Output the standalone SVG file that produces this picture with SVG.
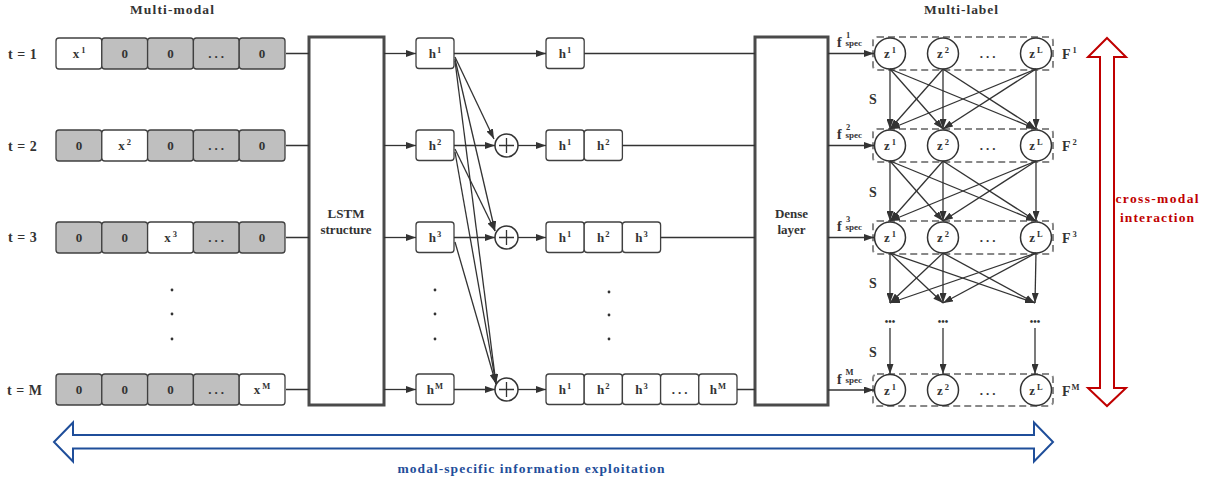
<svg xmlns="http://www.w3.org/2000/svg" width="1208" height="483" viewBox="0 0 1208 483">
<defs>
<marker id="ah" viewBox="0 0 10 7" refX="10" refY="3.5" markerWidth="10" markerHeight="7" markerUnits="userSpaceOnUse" orient="auto"><path d="M0,0 L10,3.5 L0,7 z" fill="#333"/></marker>
</defs>
<style>
text{font-family:"Liberation Serif","Times New Roman",serif;font-weight:bold;fill:#333}
.t{font-size:14px}
.c{font-size:13px;text-anchor:middle}
.sup{font-size:8.5px}
.el{letter-spacing:3px}
.cell{stroke:#404040;stroke-width:1.3;fill:#fff}
.g{fill:#bfbfbf}
.big{fill:#fff;stroke:#4a4a4a;stroke-width:3}
.ln{stroke:#333;stroke-width:1.3;fill:none}
.ar{stroke:#333;stroke-width:1.3;fill:none;marker-end:url(#ah)}
.zc{fill:#fff;stroke:#333;stroke-width:1.5}
.dash{fill:none;stroke:#888;stroke-width:2;stroke-dasharray:7 4}
.dot{fill:#333}
.sub{font-size:9px}
.fs{font-size:14px}
</style>
<rect width="1208" height="483" fill="#fff"/>
<text x="172" y="13.5" class="c" style="font-size:13.5px" textLength="84" lengthAdjust="spacing">Multi-modal</text>
<text x="961" y="13.5" class="c" style="font-size:13.5px" textLength="74" lengthAdjust="spacing">Multi-label</text>

<g id="labels-t">
<text x="8" y="58.5" class="t" word-spacing="1">t = 1</text>
<text x="8" y="150.5" class="t" word-spacing="1">t = 2</text>
<text x="8" y="242" class="t" word-spacing="1">t = 3</text>
<text x="7" y="394.5" class="t" word-spacing="1">t = M</text>
</g>

<g id="input-1">
<rect x="56" y="38" width="45.8" height="31" rx="3" class="cell"/>
<rect x="101.8" y="38" width="45.8" height="31" rx="3" class="cell g"/>
<rect x="147.6" y="38" width="45.8" height="31" rx="3" class="cell g"/>
<rect x="193.4" y="38" width="45.8" height="31" rx="3" class="cell g"/>
<rect x="239.2" y="38" width="45.8" height="31" rx="3" class="cell g"/>
<text x="79" y="58" class="c">x<tspan class="sup" dx="2" dy="-5">1</tspan></text>
<text x="124.7" y="58" class="c">0</text>
<text x="170.5" y="58" class="c">0</text>
<text x="217.5" y="58" class="c el">...</text>
<text x="262.1" y="58" class="c">0</text>
</g>
<g id="input-2">
<rect x="56" y="130" width="45.8" height="31" rx="3" class="cell g"/>
<rect x="101.8" y="130" width="45.8" height="31" rx="3" class="cell"/>
<rect x="147.6" y="130" width="45.8" height="31" rx="3" class="cell g"/>
<rect x="193.4" y="130" width="45.8" height="31" rx="3" class="cell g"/>
<rect x="239.2" y="130" width="45.8" height="31" rx="3" class="cell g"/>
<text x="78.9" y="150" class="c">0</text>
<text x="124.7" y="150" class="c">x<tspan class="sup" dx="2" dy="-5">2</tspan></text>
<text x="170.5" y="150" class="c">0</text>
<text x="217.5" y="150" class="c el">...</text>
<text x="262.1" y="150" class="c">0</text>
</g>
<g id="input-3">
<rect x="56" y="222" width="45.8" height="31" rx="3" class="cell g"/>
<rect x="101.8" y="222" width="45.8" height="31" rx="3" class="cell g"/>
<rect x="147.6" y="222" width="45.8" height="31" rx="3" class="cell"/>
<rect x="193.4" y="222" width="45.8" height="31" rx="3" class="cell g"/>
<rect x="239.2" y="222" width="45.8" height="31" rx="3" class="cell g"/>
<text x="78.9" y="242" class="c">0</text>
<text x="124.7" y="242" class="c">0</text>
<text x="170.5" y="242" class="c">x<tspan class="sup" dx="2" dy="-5">3</tspan></text>
<text x="217.5" y="242" class="c el">...</text>
<text x="262.1" y="242" class="c">0</text>
</g>
<g id="input-dots">
<circle cx="172" cy="290" r="1.4" class="dot"/><circle cx="172" cy="314" r="1.4" class="dot"/><circle cx="172" cy="339" r="1.4" class="dot"/>
</g>
<g id="input-M">
<rect x="56" y="374" width="45.8" height="31" rx="3" class="cell g"/>
<rect x="101.8" y="374" width="45.8" height="31" rx="3" class="cell g"/>
<rect x="147.6" y="374" width="45.8" height="31" rx="3" class="cell g"/>
<rect x="193.4" y="374" width="45.8" height="31" rx="3" class="cell g"/>
<rect x="239.2" y="374" width="45.8" height="31" rx="3" class="cell"/>
<text x="78.9" y="394" class="c">0</text>
<text x="124.7" y="394" class="c">0</text>
<text x="170.5" y="394" class="c">0</text>
<text x="217.5" y="394" class="c el">...</text>
<text x="262.1" y="394" class="c">x<tspan class="sup" dx="2" dy="-5">M</tspan></text>
</g>

<g id="lstm">
<rect x="309" y="37" width="75" height="368" class="big"/>
<text x="346" y="218" class="c">LSTM</text>
<text x="346" y="234" class="c">structure</text>
</g>

<g id="h-col">
<rect x="416" y="38" width="38" height="30.5" rx="3" class="cell"/>
<rect x="416" y="130" width="38" height="30.5" rx="3" class="cell"/>
<rect x="416" y="222" width="38" height="30.5" rx="3" class="cell"/>
<rect x="416" y="374" width="38" height="30.5" rx="3" class="cell"/>
<text x="435" y="58" class="c">h<tspan class="sup" dx="1" dy="-5">1</tspan></text>
<text x="435" y="150" class="c">h<tspan class="sup" dx="1" dy="-5">2</tspan></text>
<text x="435" y="242" class="c">h<tspan class="sup" dx="1" dy="-5">3</tspan></text>
<text x="435" y="394" class="c">h<tspan class="sup" dx="1" dy="-5">M</tspan></text>
<circle cx="435" cy="290" r="1.4" class="dot"/><circle cx="435" cy="314" r="1.4" class="dot"/><circle cx="435" cy="339" r="1.4" class="dot"/>
</g>

<g id="plus-nodes">
<circle cx="506.5" cy="145.5" r="11.5" class="zc" stroke-width="1.3"/>
<path d="M499,145.5 H514 M506.5,138 V153" class="ln"/>
<circle cx="506.5" cy="237.5" r="11.5" class="zc" stroke-width="1.3"/>
<path d="M499,237.5 H514 M506.5,230 V245" class="ln"/>
<circle cx="506.5" cy="389.5" r="11.5" class="zc" stroke-width="1.3"/>
<path d="M499,389.5 H514 M506.5,382 V397" class="ln"/>
</g>

<g id="concat-1">
<rect x="546" y="38" width="38.2" height="30.5" rx="3" class="cell"/>
<text x="565" y="58" class="c">h<tspan class="sup" dx="1" dy="-5">1</tspan></text>
</g>
<g id="concat-2">
<rect x="546" y="130" width="38.2" height="30.5" rx="3" class="cell"/>
<rect x="584.2" y="130" width="38.2" height="30.5" rx="3" class="cell"/>
<text x="565" y="150" class="c">h<tspan class="sup" dx="1" dy="-5">1</tspan></text>
<text x="603.3" y="150" class="c">h<tspan class="sup" dx="1" dy="-5">2</tspan></text>
</g>
<g id="concat-3">
<rect x="546" y="222" width="38.2" height="30.5" rx="3" class="cell"/>
<rect x="584.2" y="222" width="38.2" height="30.5" rx="3" class="cell"/>
<rect x="622.4" y="222" width="38.2" height="30.5" rx="3" class="cell"/>
<text x="565" y="242" class="c">h<tspan class="sup" dx="1" dy="-5">1</tspan></text>
<text x="603.3" y="242" class="c">h<tspan class="sup" dx="1" dy="-5">2</tspan></text>
<text x="641.5" y="242" class="c">h<tspan class="sup" dx="1" dy="-5">3</tspan></text>
</g>
<g id="concat-dots">
<circle cx="609" cy="292" r="1.4" class="dot"/><circle cx="609" cy="315" r="1.4" class="dot"/><circle cx="609" cy="339" r="1.4" class="dot"/>
</g>
<g id="concat-M">
<rect x="546" y="374" width="38.2" height="30.5" rx="3" class="cell"/>
<rect x="584.2" y="374" width="38.2" height="30.5" rx="3" class="cell"/>
<rect x="622.4" y="374" width="38.2" height="30.5" rx="3" class="cell"/>
<rect x="660.6" y="374" width="38.2" height="30.5" rx="3" class="cell"/>
<rect x="698.8" y="374" width="38.2" height="30.5" rx="3" class="cell"/>
<text x="565" y="394" class="c">h<tspan class="sup" dx="1" dy="-5">1</tspan></text>
<text x="603.3" y="394" class="c">h<tspan class="sup" dx="1" dy="-5">2</tspan></text>
<text x="641.5" y="394" class="c">h<tspan class="sup" dx="1" dy="-5">3</tspan></text>
<text x="681" y="394" class="c el">...</text>
<text x="717.9" y="394" class="c">h<tspan class="sup" dx="1" dy="-5">M</tspan></text>
</g>

<g id="dense">
<rect x="755" y="37" width="73" height="368" class="big"/>
<text x="791.5" y="218" class="c">Dense</text>
<text x="791.5" y="234" class="c">layer</text>
</g>

<g id="fspec">
<text x="837" y="47" class="fs">f</text><text x="845.5" y="46" class="sub">spec</text><text x="846" y="38" class="sup">1</text>
<text x="837" y="139" class="fs">f</text><text x="845.5" y="138" class="sub">spec</text><text x="846" y="130" class="sup">2</text>
<text x="837" y="231" class="fs">f</text><text x="845.5" y="230" class="sub">spec</text><text x="846" y="222" class="sup">3</text>
<text x="837" y="384" class="fs">f</text><text x="845.5" y="383" class="sub">spec</text><text x="845.5" y="375" class="sup">M</text>
</g>

<g id="z-row-1">
<rect x="873" y="37" width="180" height="33" rx="4" class="dash"/>
<circle cx="890" cy="53.5" r="15.5" class="zc"/><circle cx="943" cy="53.5" r="15.5" class="zc"/><circle cx="1036" cy="53.5" r="15.5" class="zc"/>
<text x="890" y="58" class="c">z<tspan class="sup" dx="2" dy="-5">1</tspan></text>
<text x="943" y="58" class="c">z<tspan class="sup" dx="2" dy="-5">2</tspan></text>
<text x="989" y="58" class="c el">...</text>
<text x="1036" y="58" class="c">z<tspan class="sup" dx="2" dy="-5">L</tspan></text>
<text x="1062" y="59" class="t">F<tspan class="sup" dx="2" dy="-6">1</tspan></text>
</g>
<g id="z-row-2">
<rect x="873" y="129" width="180" height="33" rx="4" class="dash"/>
<circle cx="890" cy="145.5" r="15.5" class="zc"/><circle cx="943" cy="145.5" r="15.5" class="zc"/><circle cx="1036" cy="145.5" r="15.5" class="zc"/>
<text x="890" y="150" class="c">z<tspan class="sup" dx="2" dy="-5">1</tspan></text>
<text x="943" y="150" class="c">z<tspan class="sup" dx="2" dy="-5">2</tspan></text>
<text x="989" y="150" class="c el">...</text>
<text x="1036" y="150" class="c">z<tspan class="sup" dx="2" dy="-5">L</tspan></text>
<text x="1062" y="151" class="t">F<tspan class="sup" dx="2" dy="-6">2</tspan></text>
</g>
<g id="z-row-3">
<rect x="873" y="221" width="180" height="33" rx="4" class="dash"/>
<circle cx="890" cy="237.5" r="15.5" class="zc"/><circle cx="943" cy="237.5" r="15.5" class="zc"/><circle cx="1036" cy="237.5" r="15.5" class="zc"/>
<text x="890" y="242" class="c">z<tspan class="sup" dx="2" dy="-5">1</tspan></text>
<text x="943" y="242" class="c">z<tspan class="sup" dx="2" dy="-5">2</tspan></text>
<text x="989" y="242" class="c el">...</text>
<text x="1036" y="242" class="c">z<tspan class="sup" dx="2" dy="-5">L</tspan></text>
<text x="1062" y="243" class="t">F<tspan class="sup" dx="2" dy="-6">3</tspan></text>
</g>
<g id="z-dots">
<text x="890" y="325" class="c" style="font-size:10px">•••</text>
<text x="943" y="325" class="c" style="font-size:10px">•••</text>
<text x="1035" y="325" class="c" style="font-size:10px">•••</text>
</g>
<g id="z-row-M">
<rect x="873" y="374" width="180" height="32" rx="4" class="dash"/>
<circle cx="890" cy="390" r="15.5" class="zc"/><circle cx="943" cy="390" r="15.5" class="zc"/><circle cx="1036" cy="390" r="15.5" class="zc"/>
<text x="890" y="394.5" class="c">z<tspan class="sup" dx="2" dy="-5">1</tspan></text>
<text x="943" y="394.5" class="c">z<tspan class="sup" dx="2" dy="-5">2</tspan></text>
<text x="989" y="394.5" class="c el">...</text>
<text x="1036" y="394.5" class="c">z<tspan class="sup" dx="2" dy="-5">L</tspan></text>
<text x="1062" y="396" class="t">F<tspan class="sup" dx="1" dy="-6">M</tspan></text>
</g>
<g id="s-labels">
<text x="873" y="103.5" class="c" style="font-size:14px">S</text>
<text x="873" y="196.5" class="c" style="font-size:14px">S</text>
<text x="873" y="288" class="c" style="font-size:14px">S</text>
<text x="873" y="357" class="c" style="font-size:14px">S</text>
</g>

<g id="connectors">
<path d="M286,53.5 H309 M286,145.5 H309 M286,237.5 H309 M286,389.5 H309" class="ln"/>
<path d="M384,53.5 H416" class="ar"/>
<path d="M384,145.5 H416" class="ar"/>
<path d="M384,237.5 H416" class="ar"/>
<path d="M384,389.5 H416" class="ar"/>
<path d="M454,53.5 H546" class="ar"/>
<path d="M454,145.5 H495" class="ar"/>
<path d="M454,237.5 H495" class="ar"/>
<path d="M454,389.5 H495" class="ar"/>
<path d="M455,57 L494,139" class="ar"/>
<path d="M455,59 L495,231" class="ar"/>
<path d="M455,61 L496,384" class="ar"/>
<path d="M455,149 L495,231" class="ar"/>
<path d="M455,152 L496,384" class="ar"/>
<path d="M455,242 L496,384" class="ar"/>
<path d="M518,145.5 H546" class="ar"/>
<path d="M518,237.5 H546" class="ar"/>
<path d="M518,389.5 H546" class="ar"/>
<path d="M584.2,53.5 H755 M622.4,145.5 H755 M660.6,237.5 H755 M737,389.5 H755" class="ln"/>
<path d="M828,53.5 H874" class="ar"/>
<path d="M828,145.5 H874" class="ar"/>
<path d="M828,237.5 H874" class="ar"/>
<path d="M828,390 H874" class="ar"/>
<path d="M890,69 L890,129" class="ar"/><path d="M890,69 L943,129" class="ar"/><path d="M890,69 L1036,129" class="ar"/>
<path d="M943,69 L890,129" class="ar"/><path d="M943,69 L943,129" class="ar"/><path d="M943,69 L1036,129" class="ar"/>
<path d="M1036,69 L890,129" class="ar"/><path d="M1036,69 L943,129" class="ar"/><path d="M1036,69 L1036,129" class="ar"/>
<path d="M890,161 L890,221" class="ar"/><path d="M890,161 L943,221" class="ar"/><path d="M890,161 L1036,221" class="ar"/>
<path d="M943,161 L890,221" class="ar"/><path d="M943,161 L943,221" class="ar"/><path d="M943,161 L1036,221" class="ar"/>
<path d="M1036,161 L890,221" class="ar"/><path d="M1036,161 L943,221" class="ar"/><path d="M1036,161 L1036,221" class="ar"/>
<path d="M890,253 L890,303" class="ar"/><path d="M890,253 L943,303" class="ar"/><path d="M890,253 L1035,303" class="ar"/>
<path d="M943,253 L890,303" class="ar"/><path d="M943,253 L943,303" class="ar"/><path d="M943,253 L1035,303" class="ar"/>
<path d="M1036,253 L890,303" class="ar"/><path d="M1036,253 L943,303" class="ar"/><path d="M1036,253 L1035,303" class="ar"/>
<path d="M890,328 L890,374" class="ar"/><path d="M943,328 L943,374" class="ar"/><path d="M1035,328 L1035,374" class="ar"/>
</g>

<g id="cross-modal">
<polygon points="1107,38 1126,57 1114,57 1114,388 1126,388 1107,406 1088,388 1100,388 1100,57 1088,57" fill="#fff" stroke="#c00000" stroke-width="2"/>
<text x="1157" y="203" class="c" style="fill:#c00000;font-size:13.5px" textLength="83" lengthAdjust="spacing">cross-modal</text>
<text x="1157" y="222" class="c" style="fill:#c00000;font-size:13.5px" textLength="74" lengthAdjust="spacing">interaction</text>
</g>
<g id="modal-specific">
<polygon points="54,442 73,422.5 73,435 1034,435 1034,422.5 1053,442 1034,461.5 1034,448.5 73,448.5 73,461.5" fill="#fff" stroke="#1f4e9a" stroke-width="2"/>
<text x="531" y="473" class="c" style="fill:#1f4e9a;font-size:13.5px" textLength="267" lengthAdjust="spacing">modal-specific information exploitation</text>
</g>
</svg>
